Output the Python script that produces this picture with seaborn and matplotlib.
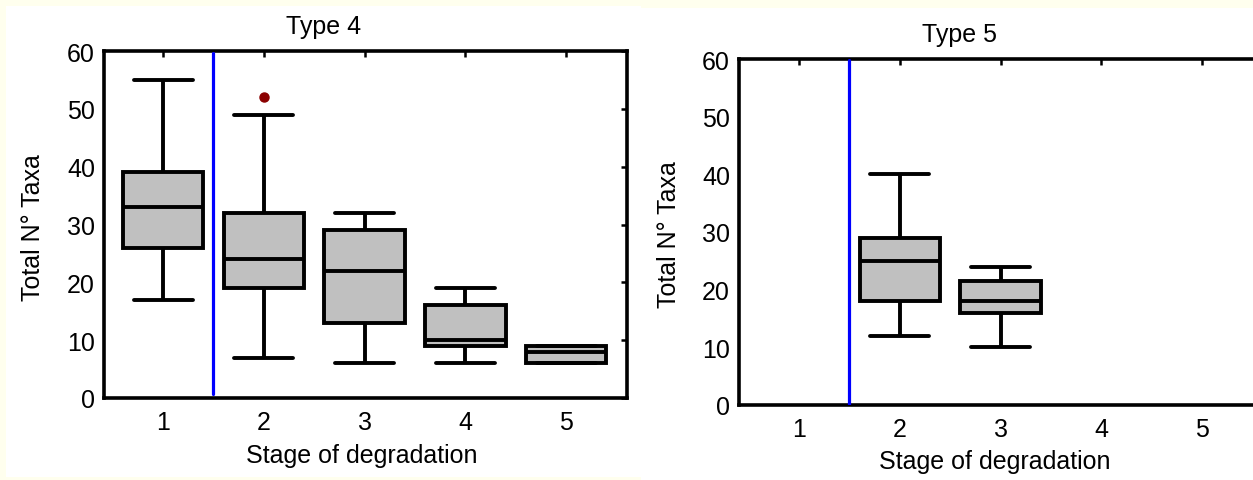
import matplotlib
matplotlib.use("Agg")
import matplotlib.pyplot as plt
from matplotlib.patches import Rectangle
import numpy as np
import pandas as pd
import seaborn as sns

# Stage-of-degradation categories shown on both panels
stages = [1, 2, 3, 4, 5]
stage_labels = ["1", "2", "3", "4", "5"]

# Type 4: five-number summary of total number of taxa per stage
t4_stage = [1, 2, 3, 4, 5]
t4_low = [17, 7, 6, 6, 6]
t4_q1 = [26, 19, 13, 9, 6]
t4_med = [33, 24, 22, 10, 8]
t4_q3 = [39, 32, 29, 16, 9]
t4_high = [55, 49, 32, 19, 9]
t4_outliers = [[], [52], [], [], []]

# Type 5: only stages 2 and 3 were sampled
t5_stage = [2, 3]
t5_low = [12, 10]
t5_q1 = [18, 16]
t5_med = [25, 18]
t5_q3 = [29, 21.5]
t5_high = [40, 24]
t5_outliers = [[], []]


def box_samples(stage, low, q1, med, q3, high, outliers):
    """Sample whose quartiles and whisker ends reproduce each summary."""
    rows = []
    for s, lo, a, m, b, hi, out in zip(stage, low, q1, med, q3, high, outliers):
        for v in [lo, a, a, m, m, b, b, hi, *out]:
            rows.append((s, v))
    return pd.DataFrame(rows, columns=["stage", "taxa"])


t4 = box_samples(t4_stage, t4_low, t4_q1, t4_med, t4_q3, t4_high, t4_outliers)
t5 = box_samples(t5_stage, t5_low, t5_q1, t5_med, t5_q3, t5_high, t5_outliers)

sns.set_theme(style="white")
plt.rcParams["font.family"] = ["Liberation Sans", "DejaVu Sans"]
plt.rcParams["text.color"] = "black"

W, H = 1253, 481
CREAM = "#FFFFEE"
FS = 18

fig = plt.figure(figsize=(W / 100, H / 100), dpi=100, facecolor=CREAM)
fig.patches.append(Rectangle((6 / W, 3 / H), 635 / W, 471 / H, transform=fig.transFigure,
                             facecolor="white", edgecolor="none", zorder=-5))
fig.patches.append(Rectangle((641 / W, 0), 612 / W, 472 / H, transform=fig.transFigure,
                             facecolor="white", edgecolor="none", zorder=-5))

ax1 = fig.add_axes([104 / W, 82 / H, 523 / W, 347 / H])
ax2 = fig.add_axes([739 / W, 75 / H, 523 / W, 346 / H])

box_kw = dict(
    x="stage", y="taxa", order=stages, color="#C0C0C0", saturation=1,
    linecolor="black", linewidth=2.8, width=0.8, capwidths=0.585,
    flierprops=dict(marker="o", markerfacecolor="#8B0000",
                    markeredgecolor="#8B0000", markersize=6.5),
)

sns.boxplot(data=t4, ax=ax1, **box_kw)
sns.boxplot(data=t5, ax=ax2, **box_kw)

for ax, x0, vspan in ((ax1, -0.586, (0.012, 0.994)), (ax2, -0.596, (0.0, 0.997))):
    ax.set_facecolor("none")
    ax.set_xlim(x0, x0 + 5.19)
    ax.set_ylim(0, 60)
    ax.set_yticks([0, 10, 20, 30, 40, 50, 60])
    ax.set_xticks(range(len(stages)))
    ax.set_xticklabels(stage_labels)
    ax.set_xlabel("")
    ax.set_ylabel("")
    ax.axvline(0.5, ymin=vspan[0], ymax=vspan[1], color="#0000FF", lw=2.3, zorder=3)
    for sp in ax.spines.values():
        sp.set_visible(True)
        sp.set_color("black")
        sp.set_linewidth(2.6)
    ax.tick_params(axis="both", direction="in", length=4.5, width=1.8, color="black",
                   top=True, right=True, labelsize=FS, labelcolor="black")
    ax.tick_params(axis="x", pad=9)
    ax.tick_params(axis="y", pad=6.5)

# Panel titles and axis labels
fig.text(324 / W, 1 - 34.3 / H, "Type 4", ha="center", va="baseline", fontsize=FS, color="black")
fig.text(959 / W, 1 - 41.7 / H, "Type 5", ha="center", va="baseline", fontsize=FS, color="black")
fig.text(362 / W, 1 - 463 / H, "Stage of degradation", ha="center", va="baseline", fontsize=FS, color="black")
fig.text(995 / W, 1 - 469 / H, "Stage of degradation", ha="center", va="baseline", fontsize=FS, color="black")
fig.text(33 / W, 1 - 228 / H, "Total N° Taxa", rotation=90, ha="center", va="center", fontsize=FS, color="black")
fig.text(669 / W, 1 - 235 / H, "Total N° Taxa", rotation=90, ha="center", va="center", fontsize=FS, color="black")

fig.savefig("out.png", dpi=100, facecolor=CREAM)
